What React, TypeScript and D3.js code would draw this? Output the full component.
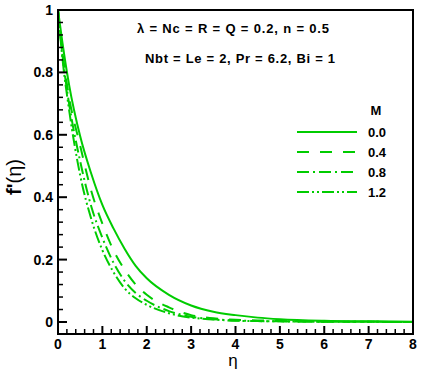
import React from 'react';
import * as d3 from 'd3';

const eta = [0, 0.1, 0.25, 0.5, 0.75, 1.0, 1.25, 1.5, 1.75, 2.0, 2.5, 3.0, 3.5, 4.0, 4.5, 5, 6, 7, 8];

// f'(eta) for each M
const fM00 = [1.0, 0.895, 0.76, 0.595, 0.475, 0.375, 0.3, 0.235, 0.18, 0.14, 0.087, 0.053, 0.033, 0.022, 0.014, 0.009, 0.004, 0.002, 0.001];
const fM04 = [1.0, 0.865, 0.72, 0.565, 0.42, 0.315, 0.23, 0.168, 0.12, 0.087, 0.047, 0.022, 0.012, 0.007, 0.005, 0.003, 0.001, 0.0005, 0];
const fM08 = [1.0, 0.855, 0.70, 0.515, 0.37, 0.27, 0.19, 0.132, 0.093, 0.068, 0.035, 0.017, 0.009, 0.005, 0.003, 0.002, 0.001, 0.0005, 0];
const fM12 = [1.0, 0.845, 0.68, 0.47, 0.33, 0.23, 0.16, 0.108, 0.076, 0.055, 0.028, 0.014, 0.008, 0.004, 0.003, 0.002, 0.001, 0.0005, 0];

const mLabels = ['0.0', '0.4', '0.8', '1.2'];
const dashes = ['none', '12,11', '12,4,2,4', '12,3,2,3,2,3'];
const xTicks = [0, 1, 2, 3, 4, 5, 6, 7, 8];
const yTicks = [0, 0.2, 0.4, 0.6, 0.8, 1];

const green = '#00cc00';
const font = 'Arial, "Liberation Sans", sans-serif';

const width = 422;
const height = 378;
const margin = { left: 58, top: 10, right: 9, bottom: 44 };

export default function App() {
  const x = d3.scaleLinear().domain([0, 8]).range([margin.left, width - margin.right]);
  const y = d3.scaleLinear().domain([-0.0385, 1]).range([height - margin.bottom, margin.top]);

  const line = d3
    .line<number>()
    .x((_, i) => x(eta[i]))
    .y(d => y(d))
    .curve(d3.curveMonotoneX);

  const series = [fM00, fM04, fM08, fM12];

  const xMinor = d3.range(0, 8.001, 0.2).filter(v => Math.abs(v - Math.round(v)) > 1e-6);
  const yMinor = d3.range(0, 1.001, 0.04).filter(v => Math.abs(v * 5 - Math.round(v * 5)) > 1e-6);

  const x0 = x(0);
  const y0 = y.range()[0];

  return (
    <svg
      width={width}
      height={height}
      style={{ position: 'absolute', left: 0, top: 0, background: '#fff' }}
      fontFamily={font}
    >
      <defs>
        <clipPath id="plot">
          <rect x={x0} y={margin.top} width={x(8) - x0} height={y0 - margin.top} />
        </clipPath>
      </defs>

      {/* curves */}
      <g clipPath="url(#plot)">
        {series.map((s, i) => (
          <path
            key={i}
            d={line(s) || ''}
            fill="none"
            stroke={green}
            strokeWidth={2}
            strokeDasharray={dashes[i]}
          />
        ))}
      </g>

      {/* x ticks */}
      {xMinor.map(v => (
        <line key={'xm' + v} x1={x(v)} x2={x(v)} y1={y0} y2={y0 - 5} stroke="#000" strokeWidth={1.5} />
      ))}
      {xTicks.map(v => (
        <g key={'x' + v}>
          <line x1={x(v)} x2={x(v)} y1={y0} y2={y0 - 8} stroke="#000" strokeWidth={2} />
          <text x={x(v)} y={y0 + 15} textAnchor="middle" fontSize={14} fontWeight="bold">
            {v}
          </text>
        </g>
      ))}

      {/* y ticks */}
      {yMinor.map(v => (
        <line key={'ym' + v} x1={x0} x2={x0 + 5} y1={y(v)} y2={y(v)} stroke="#000" strokeWidth={1.5} />
      ))}
      {yTicks.map(v => (
        <g key={'y' + v}>
          <line x1={x0} x2={x0 + 9} y1={y(v)} y2={y(v)} stroke="#000" strokeWidth={2} />
          <text x={x0 - 5} y={y(v) + 5} textAnchor="end" fontSize={14} fontWeight="bold">
            {v}
          </text>
        </g>
      ))}

      {/* frame */}
      <rect
        x={x0}
        y={margin.top}
        width={x(8) - x0}
        height={y0 - margin.top}
        fill="none"
        stroke="#000"
        strokeWidth={2}
      />

      {/* axis titles */}
      <text x={233} y={366} textAnchor="middle" fontSize={17}>
        η
      </text>
      <text transform="translate(21,177) rotate(-90)" textAnchor="middle" fontSize={20}>
        <tspan fontWeight="bold">f'</tspan>
        <tspan>(η)</tspan>
      </text>

      {/* annotation */}
      <text x={233} y={33} textAnchor="middle" fontSize={13} fontWeight="bold" textLength={192} lengthAdjust="spacing">
        λ = Nc = R = Q = 0.2, n = 0.5
      </text>
      <text x={240} y={63} textAnchor="middle" fontSize={13} fontWeight="bold" textLength={190} lengthAdjust="spacing">
        Nbt = Le = 2, Pr = 6.2, Bi = 1
      </text>

      {/* legend */}
      <text x={376} y={115} textAnchor="middle" fontSize={13} fontWeight="bold">
        M
      </text>
      {mLabels.map((m, i) => (
        <g key={m} transform={`translate(0, ${132 + i * 20})`}>
          <line x1={297} x2={357} y1={0} y2={0} stroke={green} strokeWidth={2} strokeDasharray={dashes[i]} />
          <text x={368} y={5} fontSize={13} fontWeight="bold">
            {m}
          </text>
        </g>
      ))}
    </svg>
  );
}
